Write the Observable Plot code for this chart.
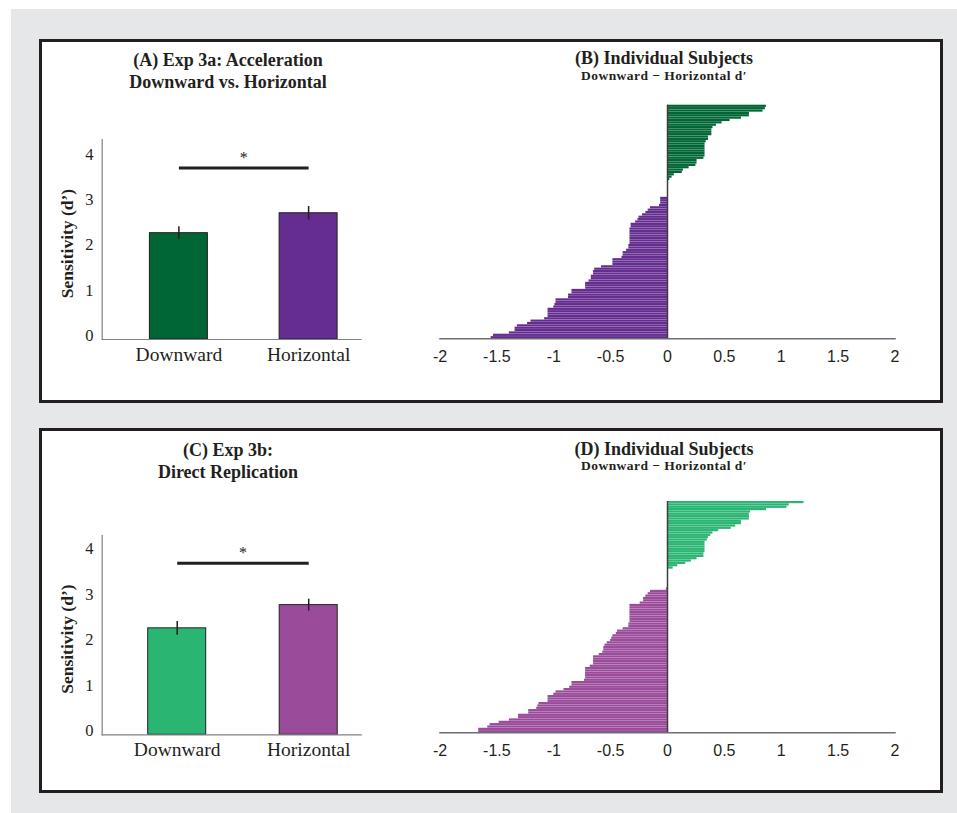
<!DOCTYPE html>
<html><head><meta charset="utf-8">
<script src="https://cdn.jsdelivr.net/npm/d3@7"></script>
<script src="https://cdn.jsdelivr.net/npm/@observablehq/plot@0.6"></script>
<style>
body{margin:0;background:#fff;width:957px;height:813px;position:relative;overflow:hidden;font-family:"Liberation Serif",serif;color:#231f20}
#bg{position:absolute;left:11px;top:9px;width:946px;height:804px;background:#e6e7e8}
.panel{position:absolute;left:39px;width:904px;background:#fff;border:3px solid #231f20;box-sizing:border-box}
.title{position:absolute;font-weight:bold;font-size:18px;line-height:22px;text-align:center;white-space:nowrap;width:400px}
.one{line-height:20px}
.sub{font-size:13.5px;letter-spacing:0.45px;line-height:10px}
</style></head>
<body>
<div id="bg"></div>
<div class="panel" style="top:39px;height:364px"></div>
<div class="panel" style="top:428px;height:365px"></div>
<div class="title" style="left:28px;top:49px">(A) Exp 3a: Acceleration<br>Downward vs. Horizontal</div>
<div class="title one" style="left:464px;top:48px">(B) Individual Subjects</div>
<div class="title sub" style="left:464px;top:71px">Downward − Horizontal d′</div>
<div class="title" style="left:28px;top:439px">(C) Exp 3b:<br>Direct Replication</div>
<div class="title one" style="left:464px;top:439px">(D) Individual Subjects</div>
<div class="title sub" style="left:464px;top:461px">Downward − Horizontal d′</div>
<script>
// ---- data ----
const conditions = ["Downward", "Horizontal"];
const exp3aMean = [2.35, 2.79];
const exp3aSE = [0.14, 0.15];
const exp3aSig = 3.79;
const exp3bMean = [2.34, 2.85];
const exp3bSE = [0.15, 0.13];
const exp3bSig = 3.77;
const sensitivityTicks = [0, 1, 2, 3, 4];
const diffTicks = [-2, -1.5, -1, -0.5, 0, 0.5, 1, 1.5, 2];
// Downward − Horizontal d′ per subject, sorted (Exp 3a)
const exp3aDiff = [0.87,0.86,0.84,0.72,0.72,0.65,0.55,0.48,0.43,0.40,0.39,0.39,0.39,0.36,0.36,0.34,0.33,0.33,0.33,0.33,0.33,0.33,0.32,0.26,0.26,0.25,0.19,0.14,0.13,0.06,0.04,0.02,
0,0,0,0,0,0,0,
-0.06,-0.06,-0.06,-0.07,-0.15,-0.17,-0.19,-0.22,-0.25,-0.26,-0.28,-0.32,-0.32,-0.33,-0.33,-0.33,-0.33,-0.33,-0.33,-0.33,-0.34,-0.34,-0.36,-0.39,-0.39,-0.40,-0.48,-0.48,-0.48,-0.58,-0.64,-0.65,-0.65,-0.67,-0.67,-0.69,-0.72,-0.72,-0.72,-0.84,-0.84,-0.87,-0.87,-0.98,-0.98,-0.99,-1.00,-1.05,-1.05,-1.05,-1.05,-1.08,-1.20,-1.23,-1.32,-1.34,-1.34,-1.39,-1.53,-1.55];
// Exp 3b
const exp3bDiff = [1.20,1.07,1.05,0.87,0.73,0.72,0.72,0.72,0.65,0.65,0.60,0.56,0.45,0.40,0.38,0.36,0.35,0.33,0.33,0.33,0.33,0.33,0.32,0.32,0.26,0.21,0.16,0.09,0.05,
0,0,0,0,0,0,0,0,
-0.01,-0.15,-0.17,-0.19,-0.21,-0.21,-0.24,-0.33,-0.33,-0.33,-0.33,-0.33,-0.33,-0.33,-0.33,-0.34,-0.34,-0.39,-0.44,-0.45,-0.48,-0.49,-0.50,-0.53,-0.55,-0.56,-0.56,-0.57,-0.60,-0.65,-0.65,-0.65,-0.65,-0.68,-0.72,-0.72,-0.72,-0.72,-0.72,-0.73,-0.84,-0.84,-0.86,-0.91,-0.98,-1.00,-1.05,-1.05,-1.05,-1.13,-1.14,-1.15,-1.22,-1.22,-1.31,-1.31,-1.39,-1.48,-1.56,-1.58,-1.66,-1.66];

// ---- styles ----
const INK = "#231f20";
const AXIS = "#808285";

function place(svg, left, top) {
  svg.style.position = "absolute";
  svg.style.left = left + "px";
  svg.style.top = top + "px";
  document.body.appendChild(svg);
}

function meanChart({means, ses, sig, colors, height, marginTop, marginBottom, yMax, xRange, paddingInner}) {
  const data = conditions.map((c, i) => ({cond: c, mean: means[i], se: ses[i]}));
  const step = (xRange[1] - xRange[0]) / (2 - paddingInner);
  return Plot.plot({
    width: 330, height, marginLeft: 61.7, marginRight: 9.3, marginTop, marginBottom,
    style: {fontFamily: '"Liberation Serif", serif', color: INK, background: "transparent", overflow: "visible"},
    x: {domain: conditions, range: xRange, paddingInner, paddingOuter: 0, round: false},
    y: {domain: [0, yMax]},
    color: {domain: conditions, range: colors},
    marks: [
      Plot.barY(data, {x: "cond", y: "mean", fill: "cond", stroke: INK, strokeWidth: 1}),
      Plot.ruleX(data, {x: "cond", y1: d => d.mean - d.se, y2: d => d.mean + d.se, stroke: INK, strokeWidth: 1.5}),
      Plot.link([{a: conditions[0], b: conditions[1], y: sig}], {x1: "a", x2: "b", y1: "y", y2: "y", stroke: INK, strokeWidth: 3}),
      Plot.text([{a: conditions[0], y: sig}], {x: "a", y: "y", text: () => "*", dx: step / 2, dy: -10, fontSize: 16}),
      Plot.frame({anchor: "left", stroke: AXIS, strokeWidth: 1.2}),
      Plot.frame({anchor: "bottom", stroke: AXIS, strokeWidth: 1.2}),
      Plot.axisY({ticks: sensitivityTicks, tickFormat: d => String(d), tickSize: 0, tickPadding: 8.7, dy: -4, fontSize: 16.5, label: null}),
      Plot.axisX({tickSize: 0, tickPadding: 7.5, fontSize: 19.5, label: null}),
      Plot.text(["Sensitivity (d’)"], {frameAnchor: "left", textAnchor: "middle", rotate: -90, dx: -35, dy: 4, fontSize: 17.5, fontWeight: "bold"})
    ]
  });
}

function diffChart({values, colors, marginTop, marginBottom}) {
  const data = values.map((v, i) => ({subject: i, diff: v, sign: v > 0 ? "pos" : "neg"}));
  return Plot.plot({
    width: 500, height: 290, marginLeft: 19.5, marginRight: 25.5, marginTop, marginBottom,
    style: {fontFamily: '"Liberation Sans", Arial, sans-serif', color: INK, background: "transparent", overflow: "visible"},
    x: {domain: [-2, 2]},
    y: {domain: data.map(d => d.subject), paddingInner: 0.06, paddingOuter: 0, round: false, axis: null},
    color: {domain: ["pos", "neg"], range: colors},
    marks: [
      Plot.barX(data, {x: "diff", y: "subject", fill: "sign"}),
      Plot.ruleX([0], {stroke: "#3d3d3d", strokeWidth: 1.5}),
      Plot.frame({anchor: "bottom", stroke: "#6d6e71", strokeWidth: 1.5}),
      Plot.axisX({ticks: diffTicks, tickSize: 0, tickPadding: 12, tickFormat: d => String(d), fontSize: 16, label: null})
    ]
  });
}

place(meanChart({means: exp3aMean, ses: exp3aSE, sig: exp3aSig, colors: ["#006636", "#652d90"],
  height: 280, marginTop: 39, marginBottom: 41, yMax: 4.42, xRange: [109.4, 297.1], paddingInner: 0.553}), 40, 100);
place(meanChart({means: exp3bMean, ses: exp3bSE, sig: exp3bSig, colors: ["#2ab573", "#9a4b9a"],
  height: 280, marginTop: 40, marginBottom: 40.7, yMax: 4.38, xRange: [107.7, 297.2], paddingInner: 0.559}), 40, 495);
place(diffChart({values: exp3aDiff, colors: ["#006636", "#652d90"], marginTop: 9.7, marginBottom: 46.7}), 420, 95);
place(diffChart({values: exp3bDiff, colors: ["#2ab573", "#9a4b9a"], marginTop: 10, marginBottom: 48.7}), 420, 491);
</script>
</body></html>
